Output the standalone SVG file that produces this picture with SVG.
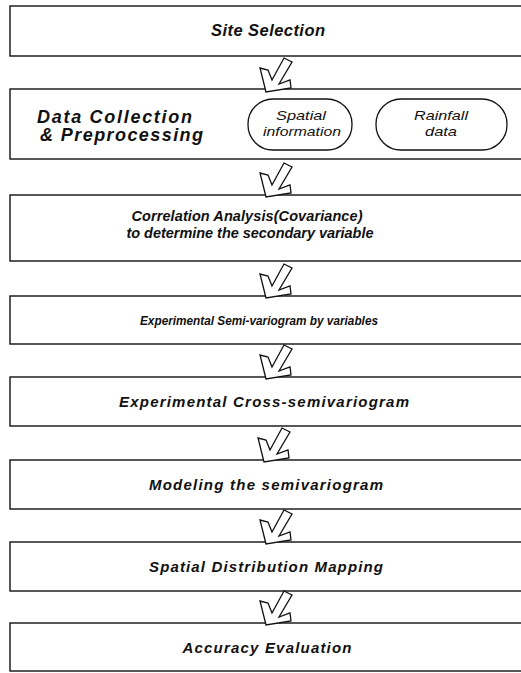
<svg xmlns="http://www.w3.org/2000/svg" width="521" height="673" viewBox="0 0 521 673">
<style>
.box{fill:#fff;stroke:#111;stroke-width:1.4}
.pill{fill:#fff;stroke:#111;stroke-width:1.3}
.t{font-family:"Liberation Sans",Arial,sans-serif;font-weight:bold;font-style:italic;font-size:15px;fill:#111;text-anchor:middle}
.big{font-size:16.5px}
.dc{font-size:18px;text-anchor:start}
.m{font-size:14.5px}
.sm{font-size:13.5px}
.s{font-family:"Liberation Sans",Arial,sans-serif;font-style:italic;font-size:13px;fill:#111;text-anchor:middle}
.arr{fill:#fff;stroke:#111;stroke-width:1.3;stroke-linejoin:miter}
</style>
<defs>
<path id="ar" class="arr" d="M0,0 L-6,-24 L2,-22 L6,-12 L18,-34 L26,-30 L13,-8 L24,-12 L25,-4 Z"/>
</defs>
<rect width="521" height="673" fill="#fff"/>
<g id="n1"><rect class="box" x="10" y="6" width="520" height="50"/><text class="t big" x="268" y="36" textLength="114" lengthAdjust="spacing">Site Selection</text></g>
<g id="n2"><rect class="box" x="10" y="89" width="520" height="70"/>
<text class="t dc" x="37" y="123" textLength="155" lengthAdjust="spacing">Data Collection</text>
<text class="t dc" x="40" y="141" textLength="163" lengthAdjust="spacing">&amp; Preprocessing</text>
<g id="n2a"><rect class="pill" x="248" y="99" width="104" height="51" rx="25" ry="25"/><text class="s" x="301" y="120" textLength="50" lengthAdjust="spacingAndGlyphs">Spatial</text><text class="s" x="302" y="136" textLength="78" lengthAdjust="spacingAndGlyphs">information</text></g>
<g id="n2b"><rect class="pill" x="376" y="99" width="131" height="51" rx="25" ry="25"/><text class="s" x="441" y="120" textLength="54" lengthAdjust="spacingAndGlyphs">Rainfall</text><text class="s" x="441" y="136" textLength="32" lengthAdjust="spacingAndGlyphs">data</text></g>
</g>
<g id="n3"><rect class="box" x="10" y="195" width="520" height="66"/>
<text class="t m" x="247" y="221" textLength="231" lengthAdjust="spacing">Correlation Analysis(Covariance)</text>
<text class="t m" x="250" y="238" textLength="247" lengthAdjust="spacing">to determine the secondary variable</text></g>
<g id="n4"><rect class="box" x="10" y="296" width="520" height="48"/><text class="t sm" x="259" y="325" textLength="238" lengthAdjust="spacingAndGlyphs">Experimental Semi-variogram by variables</text></g>
<g id="n5"><rect class="box" x="10" y="377" width="520" height="49"/><text class="t" x="264" y="407" textLength="290" lengthAdjust="spacing">Experimental Cross-semivariogram</text></g>
<g id="n6"><rect class="box" x="10" y="460" width="520" height="49"/><text class="t" x="266" y="490" textLength="234" lengthAdjust="spacing">Modeling the semivariogram</text></g>
<g id="n7"><rect class="box" x="10" y="542" width="520" height="49"/><text class="t" x="266" y="572" textLength="234" lengthAdjust="spacing">Spatial Distribution Mapping</text></g>
<g id="n8"><rect class="box" x="10" y="623" width="520" height="48"/><text class="t" x="267" y="653" textLength="169" lengthAdjust="spacing">Accuracy Evaluation</text></g>
<g id="connectors">
<use href="#ar" x="266" y="92"/>
<use href="#ar" x="266" y="197"/>
<use href="#ar" x="266" y="298"/>
<use href="#ar" x="266" y="379"/>
<use href="#ar" x="264" y="462"/>
<use href="#ar" x="266" y="544"/>
<use href="#ar" x="266" y="625"/>
</g>
</svg>
